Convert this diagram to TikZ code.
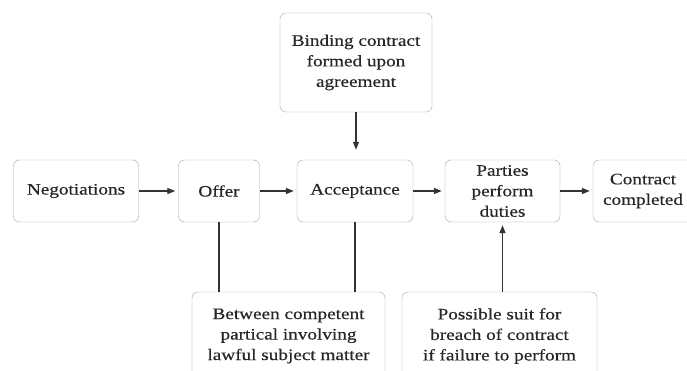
\documentclass[tikz,border=0pt]{standalone}
\usepackage{fontspec}
\setmainfont[FakeStretch=1.2,FakeBold=0.4]{Liberation Serif}
\usetikzlibrary{arrows.meta}
\begin{document}
\begin{tikzpicture}[x=1pt,y=-1pt,
	stage/.style={draw=black!35,rounded corners=6pt,align=center,inner sep=0pt,
		text=black!85,font=\fontsize{16}{20.5}\selectfont},
	flow/.style={-{Triangle[length=8pt,width=6pt]},line width=1.3pt,black!80,shorten >=3pt},
	link/.style={line width=1.3pt,black!80}]
	\useasboundingbox[fill=white] (0,0) rectangle (687,371);
	\node[stage,minimum width=125,minimum height=62] (neg) at (76,191) {Negotiations};
	\node[stage,minimum width=81,minimum height=62] (offer) at (219,191) {Offer};
	\node[stage,minimum width=116,minimum height=62] (accept) at (355,191) {Acceptance};
	\node[stage,minimum width=115,minimum height=62] (parties) at (502.5,191) {Parties\\perform\\duties};
	\node[stage,minimum width=100,minimum height=62] (done) at (643,191) {Contract\\completed};
	\node[stage,minimum width=152,minimum height=99] (binding) at (356,62.5) {Binding contract\\formed upon\\agreement};
	\node[stage,minimum width=193,minimum height=88] (lawful) at (288.5,336) {Between competent\\partical involving\\lawful subject matter};
	\node[stage,minimum width=195,minimum height=88] (suit) at (499.5,336) {Possible suit for\\breach of contract\\if failure to perform};
	\draw[flow] (neg) -- (offer);
	\draw[flow] (offer) -- (accept);
	\draw[flow] (accept) -- (parties);
	\draw[flow] (parties) -- (done);
	\draw[flow,shorten >=10pt] (binding.south) -- (binding.south |- accept.north);
	\draw[flow] (parties.south |- suit.north) -- (parties.south);
	\draw[link] (offer.south) -- (offer.south |- lawful.north);
	\draw[link] (accept.south) -- (accept.south |- lawful.north);
\end{tikzpicture}
\end{document}
